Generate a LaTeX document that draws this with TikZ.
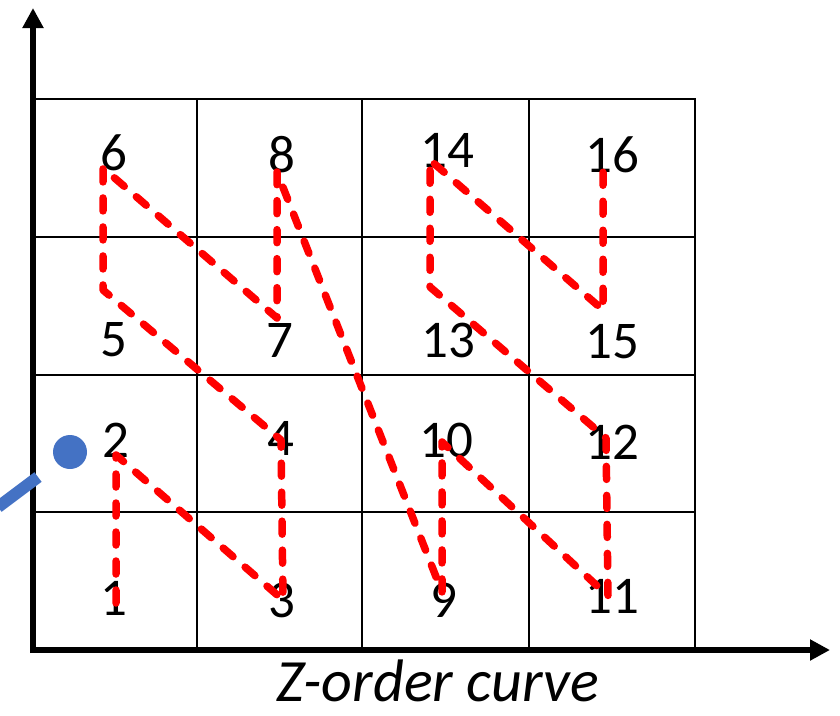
\documentclass[tikz,border=0pt]{standalone}
\usepackage{fontspec}
\setmainfont{Carlito}
\usetikzlibrary{arrows.meta,positioning}

\begin{document}
\begin{tikzpicture}[
x=1pt,y=-1pt,
axis/.style={line width=6pt,-{Triangle[length=20pt,width=20pt]}},
cell/.style={line width=2pt},
zcurve/.style={red,line width=7.5pt,dash pattern=on 13pt off 16pt,line cap=round,line join=round},
num/.style={font=\fontsize{53}{53}\selectfont,inner sep=0pt},
caption/.style={font=\fontsize{60}{60}\selectfont\itshape,inner sep=0pt,anchor=base}
]
\useasboundingbox (0,0) rectangle (840,715);

% grid of cells
\draw[cell] (33,99) rectangle (695,650);
\draw[cell] (197,99) -- (197,650);
\draw[cell] (362,99) -- (362,650);
\draw[cell] (529,99) -- (529,650);
\draw[cell] (33,237) -- (695,237);
\draw[cell] (33,375) -- (695,375);
\draw[cell] (33,512) -- (695,512);

% axes
\coordinate (origin) at (33,650);
\coordinate (ytip) at (33,8);
\coordinate (xtip) at (830,650);
\draw[axis] ([yshift=-3pt]origin) -- (ytip);
\draw[axis] ([xshift=-3pt]origin) -- (xtip);

% cell numbers
\node[num] (n1) at (114,598) {1};
\node[num] (n2) at (116,440) {2};
\node[num] (n3) at (282,600) {3};
\node[num] (n4) at (281,438) {4};
\node[num] (n5) at (114,340) {5};
\node[num] (n6) at (114,153) {6};
\node[num] (n7) at (280,340) {7};
\node[num] (n8) at (282,155) {8};
\node[num] (n9) at (444,600) {9};
\node[num] (n10) at (446,440) {10};
\node[num] (n11) at (612,596) {11};
\node[num] (n12) at (612,442) {12};
\node[num] (n13) at (448,340) {13};
\node[num] (n14) at (447,150) {14};
\node[num] (n15) at (612,342) {15};
\node[num] (n16) at (612,155) {16};

% curve points
\coordinate (p1) at (116,603);
\coordinate (p2) at (116,455);
\coordinate (p3) at (283,600);
\coordinate (p4) at (281,440);
\coordinate (p5) at (103,290);
\coordinate (p6) at (103,168);
\coordinate (p7) at (277,318);
\coordinate (p8) at (277,172);
\coordinate (p9) at (442,592);
\coordinate (p10) at (442,442);
\coordinate (p11) at (608,596);
\coordinate (p12) at (606,438);
\coordinate (p13) at (430,287);
\coordinate (p14) at (430,160);
\coordinate (p15) at (603,310);
\coordinate (p16) at (603,172);

\draw[zcurve] (p1) -- (p2) -- (p3) -- (p4) -- (p5) -- (p6) -- (p7) -- (p8)
  -- (p9) -- (p10) -- (p11) -- (p12) -- (p13) -- (p14) -- (p15) -- (p16);

% query point
\definecolor{dotblue}{HTML}{4472C4}
\node[circle,fill=dotblue,minimum size=34pt,inner sep=0pt] (dot) at (70,452) {};
\coordinate (stub) at (-2,507);
\coordinate (stubend) at (38,477);
\draw[dotblue,line width=12pt] (stub) -- (stubend);

\node[caption] (title) at (438,701) {Z-order curve};
\end{tikzpicture}
\end{document}
